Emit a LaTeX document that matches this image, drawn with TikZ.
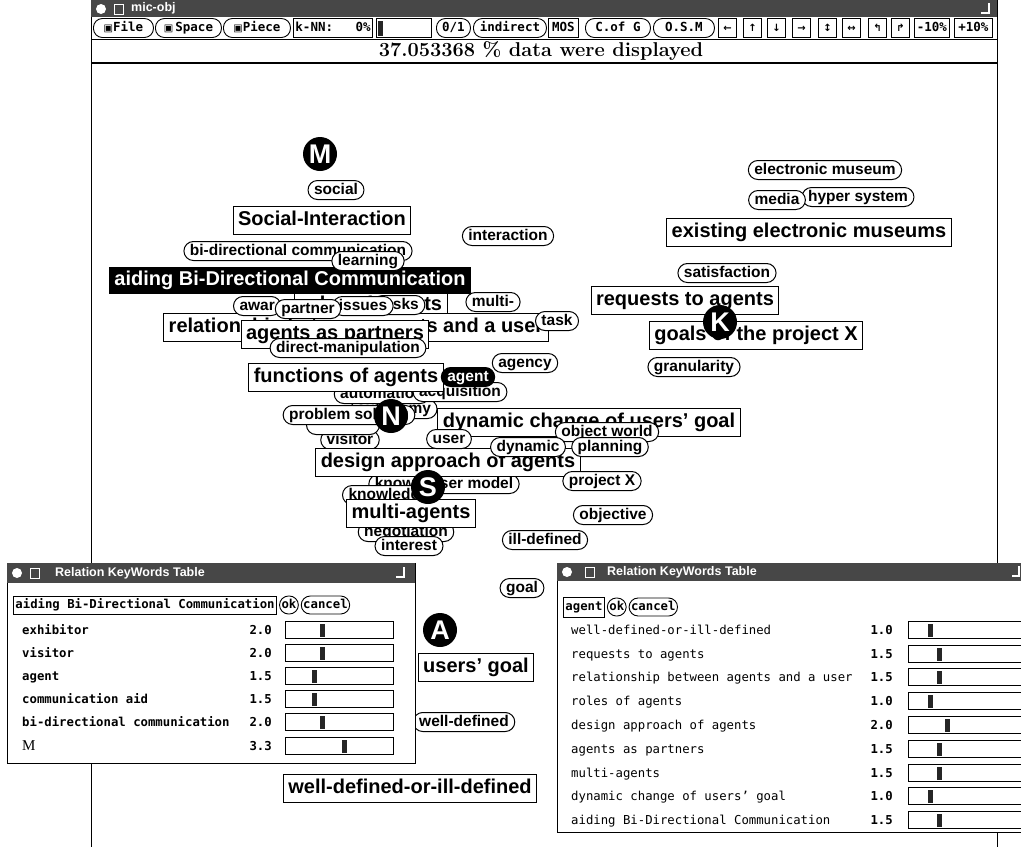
\documentclass[tikz,border=0pt]{standalone}
\usepackage{fontspec}
\usetikzlibrary{positioning}
\newfontfamily\kwfont{Liberation Sans}
\newfontfamily\monofont{DejaVu Sans Mono}
\newfontfamily\symfont{DejaVu Sans}
\newfontfamily\timesfont{Liberation Serif}

\begin{document}
\begin{tikzpicture}[x=1pt, y=-1pt,
  box/.style={draw, line width=1pt, fill=white, inner xsep=5pt, inner ysep=0pt,
    minimum height=28pt, text height=14.5pt, text depth=4pt,
    font=\kwfont\bfseries\fontsize{20}{20}\selectfont},
  selbox/.style={box, fill=black, text=white, minimum height=26pt},
  kw/.style={draw, line width=1pt, fill=white, rounded corners=9.5pt, inner xsep=6pt,
    inner ysep=0pt, minimum height=19pt, text height=11.5pt, text depth=3.5pt,
    font=\kwfont\bfseries\fontsize{15.5}{15.5}\selectfont},
  selkw/.style={kw, fill=black, text=white},
  tag/.style={circle, fill=black, text=white, inner sep=0pt, minimum size=34pt,
    font=\kwfont\bfseries\fontsize{27}{27}\selectfont},
  btn/.style={draw, line width=0.9pt, fill=white, rounded corners=9pt, anchor=west,
    inner xsep=2pt, inner ysep=0pt, minimum height=19pt, text height=9.5pt, text depth=2.5pt,
    font=\monofont\bfseries\fontsize{12.5}{12.5}\selectfont},
  sqbtn/.style={btn, rounded corners=0pt},
  titlebar/.style={fill=black!72},
  titletext/.style={anchor=west, inner sep=0pt, text=white,
    font=\kwfont\bfseries\fontsize{12.5}{12.5}\selectfont},
  row/.style={anchor=base west, inner sep=0pt,
    font=\monofont\bfseries\fontsize{12.3}{12.3}\selectfont},
  thinrow/.style={row, font=\monofont\fontsize{12.3}{12.3}\selectfont},
  val/.style={anchor=base east, inner sep=0pt,
    font=\monofont\bfseries\fontsize{12.3}{12.3}\selectfont},
  bar/.style={draw, line width=0.8pt, anchor=west, minimum width=108pt,
    minimum height=17pt, inner sep=0pt},
  knob/.style={fill=black!85, inner sep=0pt, minimum width=5pt, minimum height=13pt},
  dlgbtn/.style={btn, font=\monofont\bfseries\fontsize{12.3}{12.3}\selectfont,
    minimum height=18pt},
]
 \useasboundingbox (0,0) rectangle (1021,847);

 % main window
 \draw[line width=1pt] (91,0) -- (91,847);
 \draw[line width=1pt] (997,0) -- (997,847);
 \fill[titlebar] (91,0) rectangle (997,17);
 \fill[white] (101,9) circle (5);
 \draw[white, line width=1pt] (114,4) rectangle (123,14);
 \node[titletext] (wintitle) at (131,8.5) {mic-obj};
 \draw[white, line width=1.5pt] (989,3) -- (989,13) -- (981,13);
 \draw[line width=0.8pt] (91,39) -- (997,39);
 \draw[line width=1.2pt] (91,63) -- (997,63);

 % tool bar
 \node[btn, minimum width=60pt] (bFile) at (93,28) {{\symfont\fontsize{10}{10}\selectfont ▣}File};
 \node[btn, minimum width=66pt] (bSpace) at (155,28) {{\symfont\fontsize{10}{10}\selectfont ▣}\,Space};
 \node[btn, minimum width=67pt] (bPiece) at (223,28) {{\symfont\fontsize{10}{10}\selectfont ▣}Piece};
 \node[sqbtn, minimum width=78pt] (bKNN) at (293,28) {k-NN:~~~0\%};
 \node[sqbtn, minimum width=55pt] (bSlider) at (376,28) {};
 \node[knob, minimum height=15pt] (bSliderKnob) at (380,28) {};
 \node[btn, minimum width=34pt] (bZeroOne) at (436,28) {0/1};
 \node[btn, minimum width=73pt] (bIndirect) at (473,28) {indirect};
 \node[sqbtn, minimum width=30pt] (bMOS) at (548,28) {MOS};
 \node[btn, minimum width=65pt] (bCofG) at (585,28) {C.of G};
 \node[btn, minimum width=61pt] (bOSM) at (653,28) {O.S.M};
 \node[sqbtn, minimum width=18pt] (bLeft) at (718,28) {{\symfont\bfseries\fontsize{10}{10}\selectfont ←}};
 \node[sqbtn, minimum width=18pt] (bUp) at (743,28) {{\symfont\bfseries\fontsize{10}{10}\selectfont ↑}};
 \node[sqbtn, minimum width=18pt] (bDown) at (767,28) {{\symfont\bfseries\fontsize{10}{10}\selectfont ↓}};
 \node[sqbtn, minimum width=18pt] (bRight) at (792,28) {{\symfont\bfseries\fontsize{10}{10}\selectfont →}};
 \node[sqbtn, minimum width=18pt] (bVert) at (818,28) {{\symfont\bfseries\fontsize{10}{10}\selectfont ↕}};
 \node[sqbtn, minimum width=18pt] (bHorz) at (842,28) {{\symfont\bfseries\fontsize{10}{10}\selectfont ↔}};
 \node[sqbtn, minimum width=18pt] (bRotL) at (868,28) {{\symfont\bfseries\fontsize{10}{10}\selectfont ↰}};
 \node[sqbtn, minimum width=18pt] (bRotR) at (891,28) {{\symfont\bfseries\fontsize{10}{10}\selectfont ↱}};
 \node[sqbtn, minimum width=35pt] (bMinus) at (914,28) {-10\%};
 \node[sqbtn, minimum width=38pt] (bPlus) at (954,28) {+10\%};

 % status line
 \node[font=\rmfamily\bfseries\fontsize{20}{20}\selectfont] (status) at (541,51) {37.053368 \% data were displayed};

 % keywords, upper left
 \node[kw] (kwBidir) at (298,251) {bi-directional communication};
 \node[kw] (kwSocial) at (336,190) {social};
 \node[box] (boxSocial) at (322,220) {Social-Interaction};
 \node[kw] (kwInteraction) at (508,236) {interaction};
 \node[box] (boxRoles) at (371,305) {roles of agents};
 \node[selbox] (boxAiding) at (290,280) {aiding Bi-Directional Communication};
 \node[kw] (kwLearning) at (368,261) {learning};
 \node[box] (boxRelation) at (356,327) {relationship between agents and a user};
 \node[kw] (kwTasks) at (399,305) {tasks};
 \node[kw, anchor=west] (kwAwar) at (233,306) {awar\hspace{24pt}};
 \node[kw] (kwIssues) at (363,306) {issues};
 \node[kw] (kwPartner) at (308,309) {partner};
 \node[kw] (kwMulti) at (493,302) {multi-};
 \node[kw] (kwTask) at (557,321) {task};
 \node[box] (boxPartners) at (335,334) {agents as partners};
 \node[kw] (kwDirect) at (348,348) {direct-manipulation};

 % keywords, middle
 \node[kw] (kwAgency) at (525,363) {agency};
 \node[kw] (kwAutonomy) at (394,409) {autonomy};
 \node[kw] (kwAutomation) at (382,394) {automation};
 \node[kw] (kwAcquisition) at (460,392) {acquisition};
 \node[box] (boxFunctions) at (346,377) {functions of agents};
 \node[selkw] (kwAgent) at (468,377) {agent};
 \node[kw] (kwVisitor) at (350,440) {visitor};
 \node[kw, minimum width=73pt] (kwHidden) at (343,425) {};
 \node[kw] (kwProblem) at (349,415) {problem solving};
 \node[tag] (tagN) at (391,416) {N};
 \node[box] (boxDynamic) at (589,422) {dynamic change of users’ goal};
 \node[kw] (kwObject) at (607,432) {object world};
 \node[kw] (kwKnow) at (444,484) {know\hspace{16pt}user model};
 \node[box] (boxDesign) at (448,462) {design approach of agents};
 \node[kw] (kwUser) at (449,439) {user};
 \node[kw] (kwDynamic) at (528,447) {dynamic};
 \node[kw] (kwPlanning) at (610,447) {planning};
 \node[kw, anchor=west] (kwKnowledge) at (342,495) {knowledge\hspace{36pt}};
 \node[kw] (kwNegotiation) at (406,532) {negotiation};
 \node[box] (boxMulti) at (411,513) {multi-agents};
 \node[kw] (kwInterest) at (409,546) {interest};
 \node[tag] (tagS) at (428,487) {S};
 \node[tag] (tagM) at (320,154) {M};
 \node[kw] (kwProject) at (602,481) {project X};
 \node[kw] (kwObjective) at (613,515) {objective};
 \node[kw] (kwIll) at (545,540) {ill-defined};

 % keywords, right
 \node[kw] (kwElectronic) at (825,170) {electronic museum};
 \node[kw] (kwHyper) at (858,197) {hyper system};
 \node[kw] (kwMedia) at (777,200) {media};
 \node[box] (boxExisting) at (809,232) {existing electronic museums};
 \node[kw] (kwSatisfaction) at (727,273) {satisfaction};
 \node[box] (boxRequests) at (685,300) {requests to agents};
 \node[box] (boxGoals) at (756,335) {goals of the project X};
 \node[kw] (kwGranularity) at (694,367) {granularity};
 \node[tag] (tagK) at (720,322) {K};

 % keywords, lower
 \node[kw] (kwGoal) at (522,588) {goal};
 \node[tag] (tagA) at (440,630) {A};
 \node[box] (boxUsersGoal) at (476,667) {users’ goal};
 \node[kw] (kwWellDefined) at (464,722) {well-defined};
 \node[box] (boxWellIll) at (410,788) {well-defined-or-ill-defined};

 % left table
 \draw[line width=1pt, fill=white] (7,563) rectangle (415,763);
 \fill[titlebar] (7,563) rectangle (415,583);
 \fill[white] (17,573) circle (5);
 \draw[white, line width=1pt] (30,568) rectangle (39,578);
 \node[titletext] (lTitle) at (55,573) {Relation KeyWords Table};
 \draw[white, line width=1.5pt] (404,567) -- (404,577) -- (396,577);
 \node[dlgbtn, rounded corners=0pt] (lTopic) at (13,605) {aiding Bi-Directional Communication};
 \node[dlgbtn, right=2pt of lTopic] (lOk) {ok};
 \node[dlgbtn, right=2pt of lOk] (lCancel) {cancel};

 \node[row] (lr1) at (22,634) {exhibitor};
 \node[row] (lr2) at (22,657) {visitor};
 \node[row] (lr3) at (22,680) {agent};
 \node[row] (lr4) at (22,703) {communication aid};
 \node[row] (lr5) at (22,726) {bi-directional communication};
 \node[row, font=\timesfont\fontsize{15}{15}\selectfont] (lr6) at (22,750) {M};
 \node[val] (lv1) at (272,634) {2.0};
 \node[val] (lv2) at (272,657) {2.0};
 \node[val] (lv3) at (272,680) {1.5};
 \node[val] (lv4) at (272,703) {1.5};
 \node[val] (lv5) at (272,726) {2.0};
 \node[val] (lv6) at (272,750) {3.3};
 \node[bar] (lb1) at (285,630) {};
 \node[bar] (lb2) at (285,653) {};
 \node[bar] (lb3) at (285,676) {};
 \node[bar] (lb4) at (285,699) {};
 \node[bar] (lb5) at (285,722) {};
 \node[bar] (lb6) at (285,746) {};
 \node[knob] (lk1) at (322.5,630) {};
 \node[knob] (lk2) at (322.5,653) {};
 \node[knob] (lk3) at (314,676) {};
 \node[knob] (lk4) at (314,699) {};
 \node[knob] (lk5) at (322.5,722) {};
 \node[knob] (lk6) at (344,746) {};

 % right table
 \draw[line width=1pt, fill=white] (557,563) rectangle (1030,832);
 \fill[titlebar] (557,563) rectangle (1030,581);
 \fill[white] (567,572) circle (5);
 \draw[white, line width=1pt] (585,567) rectangle (594,577);
 \node[titletext] (rTitle) at (607,572) {Relation KeyWords Table};
 \draw[white, line width=1.5pt] (1019,566) -- (1019,576) -- (1012,576);
 \node[dlgbtn, rounded corners=0pt, minimum height=20pt] (rTopic) at (563,607) {agent};
 \node[dlgbtn, right=2pt of rTopic] (rOk) {ok};
 \node[dlgbtn, right=2pt of rOk] (rCancel) {cancel};

 \node[thinrow] (rr1) at (571,634) {well-defined-or-ill-defined};
 \node[thinrow] (rr2) at (571,658) {requests to agents};
 \node[thinrow] (rr3) at (571,681) {relationship between agents and a user};
 \node[thinrow] (rr4) at (571,705) {roles of agents};
 \node[thinrow] (rr5) at (571,729) {design approach of agents};
 \node[thinrow] (rr6) at (571,753) {agents as partners};
 \node[thinrow] (rr7) at (571,777) {multi-agents};
 \node[thinrow] (rr8) at (571,800) {dynamic change of users’ goal};
 \node[thinrow] (rr9) at (571,824) {aiding Bi-Directional Communication};
 \node[val] (rv1) at (893,634) {1.0};
 \node[val] (rv2) at (893,658) {1.5};
 \node[val] (rv3) at (893,681) {1.5};
 \node[val] (rv4) at (893,705) {1.0};
 \node[val] (rv5) at (893,729) {2.0};
 \node[val] (rv6) at (893,753) {1.5};
 \node[val] (rv7) at (893,777) {1.5};
 \node[val] (rv8) at (893,800) {1.0};
 \node[val] (rv9) at (893,824) {1.5};
 \node[bar, minimum width=125pt] (rb1) at (908,630) {};
 \node[bar, minimum width=125pt] (rb2) at (908,654) {};
 \node[bar, minimum width=125pt] (rb3) at (908,677) {};
 \node[bar, minimum width=125pt] (rb4) at (908,701) {};
 \node[bar, minimum width=125pt] (rb5) at (908,725) {};
 \node[bar, minimum width=125pt] (rb6) at (908,749) {};
 \node[bar, minimum width=125pt] (rb7) at (908,773) {};
 \node[bar, minimum width=125pt] (rb8) at (908,796) {};
 \node[bar, minimum width=125pt] (rb9) at (908,820) {};
 \node[knob] (rk1) at (930,630) {};
 \node[knob] (rk2) at (939,654) {};
 \node[knob] (rk3) at (939,677) {};
 \node[knob] (rk4) at (930,701) {};
 \node[knob] (rk5) at (947,725) {};
 \node[knob] (rk6) at (939,749) {};
 \node[knob] (rk7) at (939,773) {};
 \node[knob] (rk8) at (930,796) {};
 \node[knob] (rk9) at (939,820) {};
\end{tikzpicture}
\end{document}
